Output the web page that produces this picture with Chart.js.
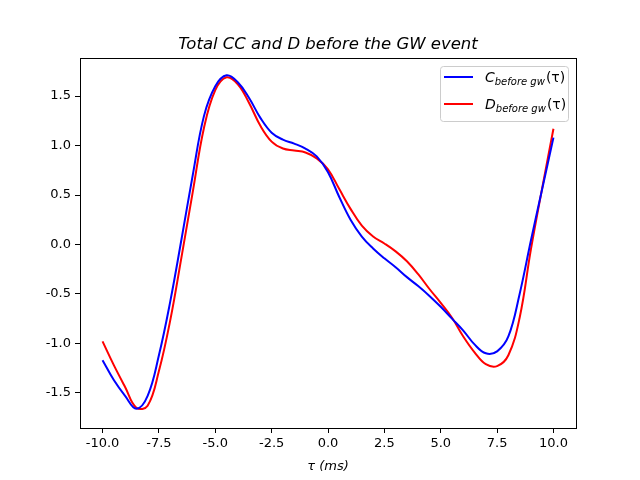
<!DOCTYPE html>
<html>
<head>
<meta charset="utf-8">
<script src="https://cdn.jsdelivr.net/npm/chart.js@4.4.1/dist/chart.umd.min.js"></script>
<style>
  html, body { margin: 0; padding: 0; background: #fff; }
  #wrap { width: 640px; height: 480px; }
</style>
</head>
<body>
<div id="wrap"><canvas id="cc"></canvas></div>
<script>
// tau values (ms)
var tau = [-10, -9.5, -9, -8.5, -8, -7.5, -7, -6.5, -6, -5.5, -5, -4.5, -4, -3.5, -3, -2.5, -2, -1.5, -1, -0.5,
  0, 0.5, 1, 1.5, 2, 2.5, 3, 3.5, 4, 4.5, 5, 5.5, 6, 6.5, 7, 7.5, 8, 8.5, 9, 9.5, 10];

// C before gw
var cBefore = [-1.17, -1.37, -1.53, -1.66, -1.53, -1.12, -0.58, 0.05, 0.70, 1.30, 1.60, 1.71, 1.64, 1.48, 1.28, 1.13, 1.06, 1.02, 0.97, 0.89,
  0.73, 0.48, 0.25, 0.08, -0.04, -0.14, -0.23, -0.33, -0.42, -0.52, -0.63, -0.75, -0.87, -1.01, -1.10, -1.08, -0.93, -0.50, 0.04, 0.56, 1.08];

// D before gw
var dBefore = [-0.98, -1.22, -1.44, -1.65, -1.63, -1.28, -0.77, -0.13, 0.53, 1.18, 1.56, 1.69, 1.62, 1.43, 1.20, 1.04, 0.97, 0.95, 0.93, 0.87,
  0.76, 0.56, 0.36, 0.19, 0.08, 0.01, -0.07, -0.17, -0.30, -0.45, -0.59, -0.74, -0.93, -1.09, -1.21, -1.23, -1.12, -0.74, -0.05, 0.57, 1.17];

var xTicks = [-10, -7.5, -5, -2.5, 0, 2.5, 5, 7.5, 10];
var yTicks = [-1.5, -1, -0.5, 0, 0.5, 1, 1.5];

var FONT = "'DejaVu Sans', sans-serif";

function pts(ys) {
  return tau.map(function(t, i) { return { x: t, y: ys[i] }; });
}

// frame, title and legend like the original figure
var decor = {
  id: 'decor',
  afterDraw: function(chart) {
    var ctx = chart.ctx;
    var a = chart.chartArea;
    ctx.save();
    ctx.strokeStyle = '#000';
    ctx.lineWidth = 1;
    ctx.strokeRect(Math.round(a.left) + 0.5, Math.round(a.top) + 0.5,
      Math.round(a.right - a.left), Math.round(a.bottom - a.top));

    // title
    ctx.fillStyle = '#000';
    ctx.font = 'italic 16.5px ' + FONT;
    ctx.textAlign = 'center';
    ctx.textBaseline = 'alphabetic';
    ctx.fillText('Total CC and D before the GW event', (a.left + a.right) / 2, 49);

    // legend box
    var bx = 440, by = 66, bw = 128, bh = 55;
    ctx.fillStyle = 'rgba(255,255,255,0.8)';
    ctx.strokeStyle = '#ccc';
    ctx.lineWidth = 1;
    ctx.beginPath();
    if (ctx.roundRect) ctx.roundRect(bx + 0.5, by + 0.5, bw, bh, 3); else ctx.rect(bx + 0.5, by + 0.5, bw, bh);
    ctx.fill();
    ctx.stroke();

    var rows = [['C', '#0000ff', 77], ['D', '#ff0000', 104]];
    rows.forEach(function(r) {
      ctx.strokeStyle = r[1];
      ctx.lineWidth = 2;
      ctx.beginPath();
      ctx.moveTo(444, r[2]);
      ctx.lineTo(473, r[2]);
      ctx.stroke();
      ctx.fillStyle = '#000';
      ctx.textAlign = 'left';
      ctx.textBaseline = 'alphabetic';
      var x = 485, base = r[2] + 5;
      ctx.font = 'italic 14px ' + FONT;
      ctx.fillText(r[0], x, base);
      x += ctx.measureText(r[0]).width;
      ctx.font = 'italic 10px ' + FONT;
      ctx.fillText('before gw', x, base + 3);
      x += ctx.measureText('before gw').width;
      ctx.font = '14px ' + FONT;
      ctx.fillText('(τ)', x + 1, base);
    });
    ctx.restore();
  }
};

new Chart(document.getElementById('cc').getContext('2d'), {
  type: 'line',
  data: {
    datasets: [
      { label: 'C', data: pts(cBefore), borderColor: '#0000ff', borderWidth: 2, pointRadius: 0, tension: 0.4, fill: false },
      { label: 'D', data: pts(dBefore), borderColor: '#ff0000', borderWidth: 2, pointRadius: 0, tension: 0.4, fill: false }
    ]
  },
  plugins: [decor],
  options: {
    responsive: true,
    maintainAspectRatio: false,
    animation: false,
    layout: { padding: { left: 0, right: 64, top: 58, bottom: 0 } },
    plugins: { legend: { display: false }, tooltip: { enabled: false } },
    scales: {
      x: {
        type: 'linear',
        min: -11,
        max: 11,
        afterBuildTicks: function(s) { s.ticks = xTicks.map(function(v) { return { value: v }; }); },
        afterFit: function(s) { s.height = 52; },
        border: { display: false },
        grid: { drawOnChartArea: false, drawTicks: true, tickLength: 5, color: '#000' },
        ticks: {
          color: '#000', padding: 3, maxRotation: 0,
          font: { family: FONT, size: 13 },
          callback: function(v) { return v.toFixed(1); }
        },
        title: { display: true, text: 'τ (ms)', color: '#000', padding: { top: 0, bottom: 6 }, font: { family: FONT, size: 13, style: 'italic' } }
      },
      y: {
        min: -1.855,
        max: 1.885,
        afterBuildTicks: function(s) { s.ticks = yTicks.map(function(v) { return { value: v }; }); },
        afterFit: function(s) { s.width = 80; },
        border: { display: false },
        grid: { drawOnChartArea: false, drawTicks: true, tickLength: 5, color: '#000' },
        ticks: {
          color: '#000', padding: 4,
          font: { family: FONT, size: 13 },
          callback: function(v) { return v.toFixed(1); }
        }
      }
    }
  }
});
</script>
</body>
</html>
